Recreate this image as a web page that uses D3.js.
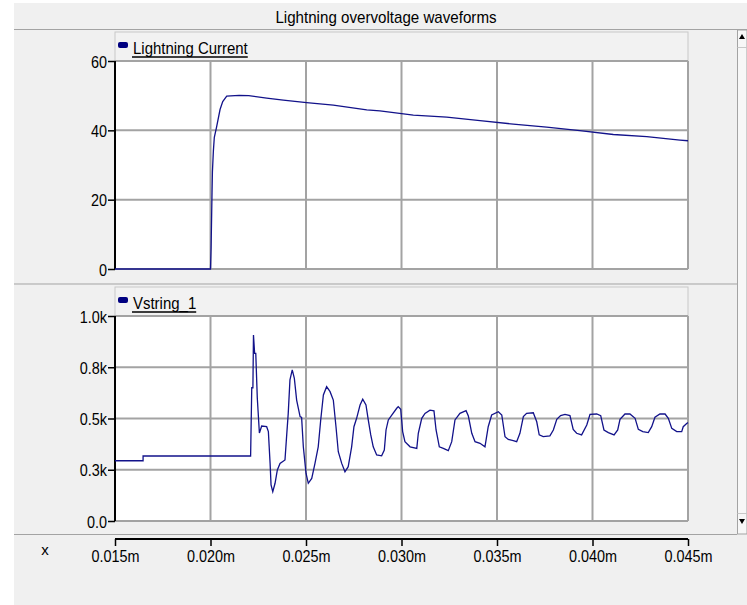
<!DOCTYPE html>
<html><head><meta charset="utf-8">
<script src="https://cdn.jsdelivr.net/npm/d3@7"></script>
<style>
html,body{margin:0;padding:0;background:#fff;}
text{font-family:"Liberation Sans",Arial,sans-serif;fill:#000;}
</style></head><body>
<svg id="c" width="747" height="605"></svg>
<script>
const chartTitle = "Lightning overvoltage waveforms";
const xTicks = [0.015, 0.020, 0.025, 0.030, 0.035, 0.040, 0.045];
const xTickLabels = ["0.015m","0.020m","0.025m","0.030m","0.035m","0.040m","0.045m"];

const currentName = "Lightning Current";
const currentTicks = [0, 20, 40, 60];
const currentTickLabels = ["0","20","40","60"];
const currentTime = [0.015,0.0200,0.02003,0.02008,0.0201,0.02015,0.0202,0.02032,0.0205,0.02064,0.02085,0.0215,0.0220,0.02294,0.02381,0.02503,0.02643,0.02818,0.02887,0.03062,0.03237,0.03411,0.03585,0.0376,0.03934,0.04109,0.04284,0.04458,0.045];
const currentValue = [0,0,6,22,28,34,38,41,46,48.3,49.9,50.1,50.0,49.3,48.7,48.0,47.3,45.9,45.6,44.4,43.8,42.8,41.8,40.9,39.9,38.8,38.2,37.2,37.0];

const voltageName = "Vstring_1";
const voltageTicks = [0, 250, 500, 750, 1000];
const voltageTickLabels = ["0.0","0.3k","0.5k","0.8k","1.0k"];
const voltageTime = [0.01500,0.01647,0.01647,0.02210,0.02216,0.02222,0.02225,0.02231,0.02237,0.02245,0.02256,0.02268,0.02294,0.02303,0.02312,0.02317,0.02326,0.02338,0.02350,0.02364,0.02390,0.02399,0.02407,0.02416,0.02428,0.02439,0.02451,0.02469,0.02477,0.02486,0.02500,0.02512,0.02530,0.02547,0.02564,0.02577,0.02591,0.02608,0.02626,0.02643,0.02657,0.02669,0.02687,0.02704,0.02721,0.02739,0.02751,0.02765,0.02783,0.02797,0.02814,0.02826,0.02839,0.02852,0.02870,0.02896,0.02910,0.02919,0.02931,0.02949,0.02975,0.02983,0.02996,0.03006,0.03018,0.03045,0.03080,0.03088,0.03106,0.03123,0.03149,0.03170,0.03181,0.03198,0.03219,0.03245,0.03263,0.03280,0.03306,0.03338,0.03350,0.03368,0.03385,0.03411,0.03437,0.03454,0.03472,0.03507,0.03525,0.03542,0.03559,0.03585,0.03603,0.03620,0.03638,0.03655,0.03690,0.03708,0.03721,0.03742,0.03777,0.03795,0.03813,0.03833,0.03856,0.03882,0.03899,0.03917,0.03943,0.03970,0.03987,0.04022,0.04043,0.04060,0.04083,0.04113,0.04132,0.04144,0.04170,0.04196,0.04223,0.04240,0.04263,0.04292,0.04310,0.04327,0.04353,0.04380,0.04397,0.04415,0.04441,0.04467,0.04475,0.04493,0.04500];
const voltageValue = [294,294,317,317,650,650,907,818,818,600,429,463,460,436,281,176,143,184,249,281,298,420,525,688,737,696,590,509,505,362,233,184,208,281,362,493,615,655,631,590,460,338,281,240,265,362,460,501,566,594,566,493,420,362,322,318,346,444,493,517,550,558,545,436,387,362,354,428,501,525,541,537,444,362,354,343,387,493,525,538,512,428,387,379,362,460,517,533,517,411,398,392,387,428,509,525,528,484,420,412,415,444,496,514,520,514,447,428,420,468,520,522,514,444,431,420,444,496,522,522,501,447,436,431,460,506,522,522,501,452,436,436,460,476,480];

const svg = d3.select("#c");
const GRID = "#a3a3a3", BG = "#f0f0f0", LINE = "#12128a";
const left = 115, right = 688;

// background
svg.append("rect").attr("x",14).attr("y",3).attr("width",733).attr("height",602).attr("fill",BG);
// title
svg.append("text").attr("class","sq").attr("x",386).attr("y",23).attr("text-anchor","middle")
  .style("font-size","17px").text(chartTitle);
svg.append("line").attr("x1",14).attr("x2",747).attr("y1",29.5).attr("y2",29.5).attr("stroke",GRID);

const x = d3.scaleLinear().domain([0.015,0.045]).range([left,right]);

function panel(top, headTop, bottom, yDomain, ticks, tickLabels, name, times, values){
  const y = d3.scaleLinear().domain(yDomain).range([bottom, top]);
  const g = svg.append("g");
  // header strip
  g.append("rect").attr("x",left).attr("y",headTop).attr("width",right-left).attr("height",top-headTop)
    .attr("fill","#f2f2f2").attr("stroke","#c8c8c8");
  // plot area
  g.append("rect").attr("x",left).attr("y",top).attr("width",right-left).attr("height",bottom-top).attr("fill","#fff");
  // grid
  g.append("g").selectAll("line").data(xTicks).join("line")
    .attr("x1",d=>x(d)).attr("x2",d=>x(d)).attr("y1",top).attr("y2",bottom)
    .attr("stroke",GRID).attr("stroke-width",2);
  g.append("g").selectAll("line").data(ticks).join("line")
    .attr("x1",left).attr("x2",right).attr("y1",d=>y(d)).attr("y2",d=>y(d))
    .attr("stroke",GRID).attr("stroke-width",2);
  // y axis
  const ax = d3.axisLeft(y).tickValues(ticks).tickFormat((d,i)=>tickLabels[i]).tickSize(7).tickPadding(1);
  const ag = g.append("g").attr("transform",`translate(${left},0)`).call(ax);
  ag.select(".domain").attr("stroke","#000").attr("stroke-width",2).attr("d",`M0,${top}V${bottom}`);
  ag.selectAll(".tick line").attr("stroke","#000").attr("stroke-width",1.5);
  ag.selectAll(".tick text").attr("class","sq2").style("font-size","16px").style("font-family",'"Liberation Sans",Arial,sans-serif')
    .attr("dy","0.38em");
  // series
  const pts = times.map((t,i)=>[t, values[i]]);
  g.append("path").datum(pts).attr("fill","none").attr("stroke",LINE).attr("stroke-width",1.3)
    .attr("d", d3.line().x(d=>x(d[0])).y(d=>y(d[1])));
  // legend
  g.append("rect").attr("x",118).attr("y",headTop+10).attr("width",10).attr("height",6).attr("rx",2).attr("fill","#000080");
  const lt = g.append("text").attr("class","sq").attr("x",133).attr("y",headTop+22).style("font-size","17px").text(name);
  return {lt, headTop};
}

const p1 = panel(61, 32, 269, [0,60], currentTicks, currentTickLabels, currentName, currentTime, currentValue);
svg.append("line").attr("x1",14).attr("x2",737).attr("y1",284).attr("y2",284).attr("stroke",GRID);
const p2 = panel(316, 287, 521, [0,1000], voltageTicks, voltageTickLabels, voltageName, voltageTime, voltageValue);
svg.append("line").attr("x1",14).attr("x2",737).attr("y1",534.5).attr("y2",534.5).attr("stroke",GRID);

// x axis
const xa = d3.axisBottom(x).tickValues(xTicks).tickFormat((d,i)=>xTickLabels[i]).tickSize(7).tickPadding(5);
const xg = svg.append("g").attr("transform","translate(0,539)").call(xa);
xg.select(".domain").attr("stroke","#000").attr("stroke-width",2).attr("d",`M${left},0H${right}`);
xg.selectAll(".tick line").attr("stroke","#000").attr("stroke-width",1.5);
xg.selectAll(".tick text").attr("class","sq2").style("font-size","16px").style("font-family",'"Liberation Sans",Arial,sans-serif');
svg.append("text").attr("x",45).attr("y",555).attr("text-anchor","middle").style("font-size","15px").text("x");

// scrollbar
svg.append("rect").attr("x",737.5).attr("y",30).attr("width",9.5).attr("height",504).attr("fill","#f7f7f7").attr("stroke",GRID);
svg.append("line").attr("x1",737.5).attr("x2",747).attr("y1",47.5).attr("y2",47.5).attr("stroke","#c8c8c8");
svg.append("line").attr("x1",737.5).attr("x2",747).attr("y1",513.5).attr("y2",513.5).attr("stroke","#c8c8c8");
svg.append("path").attr("d","M742,34L745,39H739Z").attr("fill","#000");
svg.append("path").attr("d","M742,524L745,519H739Z").attr("fill","#000");

// underline legends
[p1,p2].forEach(p=>{
  const w = p.lt.node().getComputedTextLength()*0.88;
  p.lt.attr("textLength",w).attr("lengthAdjust","spacingAndGlyphs");
  svg.append("line").attr("x1",132).attr("x2",133+w).attr("y1",p.headTop+25).attr("y2",p.headTop+25).attr("stroke","#000").attr("stroke-width",1.5);
});
// squeeze title and tick labels
svg.selectAll("text.sq").filter(function(){return !this.getAttribute("textLength");}).each(function(){
  this.setAttribute("textLength", this.getComputedTextLength()*0.89);
  this.setAttribute("lengthAdjust","spacingAndGlyphs");
});
svg.selectAll("text.sq2").each(function(){
  this.setAttribute("textLength", this.getComputedTextLength()*0.9);
  this.setAttribute("lengthAdjust","spacingAndGlyphs");
});
</script>
</body></html>
